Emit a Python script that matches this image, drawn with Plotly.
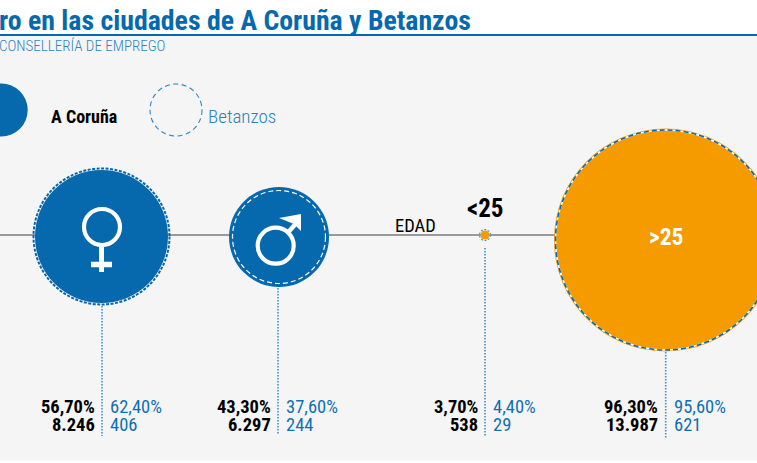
import plotly.graph_objects as go

# data
groups = ["Mujeres", "Hombres", "<25", ">25"]
pct_coruna = [56.70, 43.30, 3.70, 96.30]
pct_betanzos = [62.40, 37.60, 4.40, 95.60]
num_coruna = [8246, 6297, 538, 13987]
num_betanzos = [406, 244, 29, 621]

# layout, in pixels of the 757x463 page
center_x = [101.5, 279, 485, 665.5]
center_y = [236.5, 237, 235, 240]
diam_coruna = [133, 100, 9, 223]
radius_betanzos = [68, 46.5, 5.5, 110]
stem_x = [102, 278, 485, 665.7]
stem_top = [306, 288, 248, 352]
stem_bottom = [436, 435, 436, 438]
dash_style = ["3px,1.5px", "5px,3px", "2px,1.5px", "5px,3px"]
dash_color = ["#0868ae", "#ffffff", "#4a97cf", "#0868ae"]
dash_width = [2, 1.2, 1.1, 1.6]

BLUE = "#0669ae"
TEXT_BLUE = "#0f70b5"
ORANGE = "#f59b00"
GREY = "#f5f5f5"
FONT = "Roboto Condensed, Roboto"


def fmt_pct(v):
    return f"{v:.2f}".replace(".", ",") + "%"


def fmt_num(v):
    return f"{v:,}".replace(",", ".")


def label(x, y, text, size, color="#000000", weight=400, anchor="left", shift=0):
    return dict(x=x, y=y, text=text, showarrow=False, xanchor=anchor, yanchor="middle",
                xref="x", yref="y", borderpad=0, borderwidth=0, xshift=shift,
                font=dict(family=FONT, size=size, color=color, weight=weight))


def circle(cx, cy, r, **kw):
    return dict(type="circle", xref="x", yref="y", x0=cx - r, x1=cx + r, y0=cy - r, y1=cy + r, **kw)


def seg(x0, y0, x1, y1, width=4.2, color="#ffffff"):
    return dict(type="line", xref="x", yref="y", x0=x0, y0=y0, x1=x1, y1=y1, layer="above",
                line=dict(color=color, width=width))


fig = go.Figure()

# vertical dotted stems
for i in range(len(groups)):
    fig.add_trace(go.Scatter(x=[stem_x[i], stem_x[i]], y=[stem_top[i], stem_bottom[i]], mode="lines",
                             line=dict(color="#3f8fcb", width=1.6, dash="1.5px,1.5px"), hoverinfo="skip"))

# A Coruña circles
fig.add_trace(go.Scatter(x=center_x, y=center_y, mode="markers", hoverinfo="skip",
                         marker=dict(size=diam_coruna, sizemode="diameter", line=dict(width=0),
                                     color=[BLUE, BLUE, ORANGE, ORANGE], opacity=1)))
# legend circle
fig.add_trace(go.Scatter(x=[1.2], y=[110], mode="markers", hoverinfo="skip",
                         marker=dict(size=53, color=BLUE, line=dict(width=0))))

shapes = [
    dict(type="rect", xref="x", yref="y", x0=0, x1=757, y0=36, y1=460.5, layer="below",
         fillcolor=GREY, line=dict(width=0)),
    dict(type="line", xref="x", yref="y", x0=0, x1=757, y0=35, y1=35, layer="below",
         line=dict(color=BLUE, width=2)),
    dict(type="line", xref="x", yref="y", x0=0, x1=560, y0=235, y1=235, layer="below",
         line=dict(color="#7b7b7b", width=1.3)),
    circle(176, 110, 26, layer="above", line=dict(color="#2f86c5", width=1.1, dash="5px,3.5px")),
    # white ring under the dashes of the orange circle
    circle(center_x[3], center_y[3], radius_betanzos[3], layer="above", line=dict(color="#ffffff", width=1.5)),
]
# Betanzos circles
for i in range(len(groups)):
    shapes.append(circle(center_x[i], center_y[i], radius_betanzos[i], layer="above",
                         line=dict(color=dash_color[i], width=dash_width[i], dash=dash_style[i])))

# female icon
shapes += [
    circle(102, 227, 18, layer="above", line=dict(color="#ffffff", width=4.2)),
    seg(101.5, 246, 101.5, 272, 5),
    seg(91, 264.5, 112, 264.5, 5.5),
]
# male icon
shapes += [
    circle(275.7, 245.7, 18, layer="above", line=dict(color="#ffffff", width=4.2)),
    seg(288, 232.5, 295, 224.5, 4.5),
    dict(type="path", xref="x", yref="y", layer="above", fillcolor="#ffffff", line=dict(width=0),
         path="M 279 218 L 301 214 L 301 231 L 294 224 Z"),
]

annotations = [
    label(0, 20.5, "ro en las ciudades de A Coruña y Betanzos", 27.8, BLUE, weight=700, shift=-1),
    label(0, 46, "CONSELLERÍA DE EMPREGO", 15, "#2f86c5", weight=300, shift=-1),
    label(51, 116, "A Coruña", 18, weight=700),
    label(208, 116, "Betanzos", 19, "#2a7fc0", weight=300),
    label(394.5, 226, "EDAD", 18.5, weight=400),
    label(485, 208, "<25", 25, weight=700, anchor="center"),
    label(666, 237, ">25", 23.5, "#ffffff", weight=700, anchor="center"),
]
for i in range(len(groups)):
    annotations.append(label(stem_x[i] - 7.5, 406.5, fmt_pct(pct_coruna[i]), 18.5, weight=700, anchor="right"))
    annotations.append(label(stem_x[i] - 7.5, 424.5, fmt_num(num_coruna[i]), 18.5, weight=700, anchor="right"))
    annotations.append(label(stem_x[i] + 8, 406.5, fmt_pct(pct_betanzos[i]), 18.5, TEXT_BLUE))
    annotations.append(label(stem_x[i] + 8, 424.5, fmt_num(num_betanzos[i]), 18.5, TEXT_BLUE))

fig.update_layout(
    width=757, height=463, autosize=False, showlegend=False,
    margin=dict(l=0, r=0, t=0, b=0),
    paper_bgcolor="#ffffff", plot_bgcolor="rgba(0,0,0,0)",
    xaxis=dict(range=[0, 757], visible=False, fixedrange=True),
    yaxis=dict(range=[463, 0], visible=False, fixedrange=True),
    shapes=shapes, annotations=annotations,
)
fig.write_html("out.html", config={"displayModeBar": False},
               post_script="document.body.style.margin='0';document.body.style.overflow='hidden';"
                           "var s=document.createElement('style');s.textContent='text{font-stretch:75%}';"
                           "document.head.appendChild(s);")
